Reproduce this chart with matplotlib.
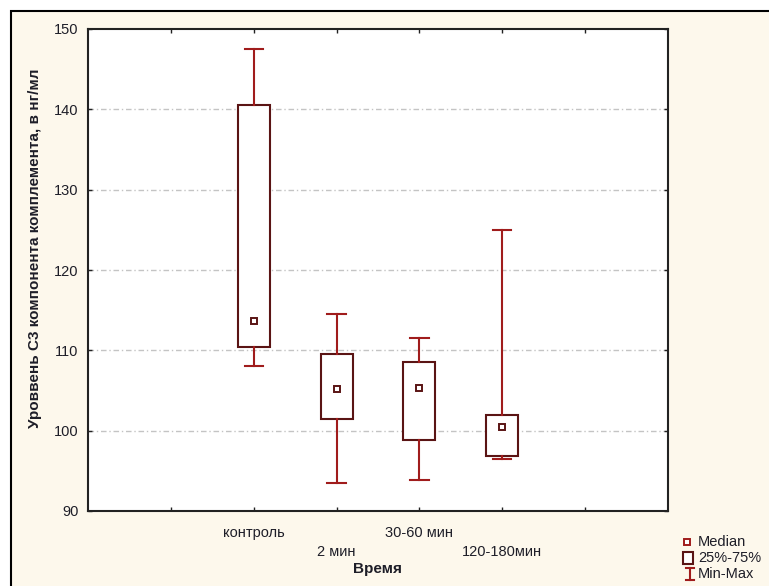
import matplotlib
matplotlib.use("Agg")
import matplotlib.pyplot as plt
from matplotlib.patches import Rectangle
from matplotlib.lines import Line2D
from matplotlib.transforms import ScaledTranslation

plt.rcParams['font.family'] = ['Liberation Sans', 'DejaVu Sans']

# Данные по группам (время после воздействия)
categories = ['контроль', '2 мин', '30-60 мин', '120-180мин']
medians = [113.7, 105.2, 105.3, 100.4]
q1 = [110.4, 101.5, 98.9, 96.9]
q3 = [140.6, 109.5, 108.5, 101.9]
mins = [108.0, 93.5, 93.9, 96.5]
maxs = [147.5, 114.5, 111.5, 125.0]
positions = [2, 3, 4, 5]

W, H = 769, 586
box_col = '#5a1414'
whisk_col = '#a01c1c'
bg_col = '#fdf8ec'
txt_col = '#1e1e28'


def px(x, y):
    # пиксели -> доли фигуры
    return x / W, 1 - y / H


fig = plt.figure(figsize=(W / 100, H / 100), dpi=100, facecolor='white')

# кремовая подложка с рамкой
x0, y0 = px(10.5, 10.5)
fig.patches.append(Rectangle((x0, -0.1), 1.2, y0 + 0.1, transform=fig.transFigure,
                             facecolor=bg_col, edgecolor='black', linewidth=1.5, zorder=-5))

ax = fig.add_axes([88 / W, 75 / H, 580 / W, 482 / H])
ax.set_facecolor('white')

stats = []
for i in range(len(categories)):
    stats.append({'med': medians[i], 'q1': q1[i], 'q3': q3[i],
                  'whislo': mins[i], 'whishi': maxs[i], 'fliers': []})

ax.bxp(stats, positions=positions, widths=0.385, capwidths=0.22,
       showfliers=False, patch_artist=True,
       boxprops=dict(facecolor='white', edgecolor=box_col, linewidth=1.5),
       whiskerprops=dict(color=whisk_col, linewidth=1.5),
       capprops=dict(color=whisk_col, linewidth=1.5),
       medianprops=dict(linestyle='none'), zorder=3)

ax.plot(positions, medians, linestyle='none', marker='s', markersize=5,
        markerfacecolor='white', markeredgecolor=box_col, markeredgewidth=1.4, zorder=4)

ax.set_xlim(0, 7)
ax.set_ylim(90, 150)
ax.set_yticks([90, 100, 110, 120, 130, 140, 150])
ax.set_xticks([1, 2, 3, 4, 5, 6])
ax.set_xticklabels([''] + categories + [''])

for y in [100, 110, 120, 130, 140]:
    ax.axhline(y, color='#c4c4c4', linewidth=1.0, linestyle=(0, (4, 2, 1, 2)), zorder=1)

for sp in ax.spines.values():
    sp.set_linewidth(1.5)
    sp.set_color('#222222')

ax.tick_params(direction='in', length=3, width=1, top=True, right=True,
               labelsize=10.5, labelcolor=txt_col, colors='#222222')
ax.tick_params(axis='x', pad=11)
ax.tick_params(axis='y', pad=7)

# подписи оси X в два ряда
for i, lab in enumerate(ax.get_xticklabels()):
    if i in (2, 4):
        lab.set_transform(lab.get_transform() + ScaledTranslation(0, -0.19, fig.dpi_scale_trans))

ax.set_xlabel('Время', fontsize=11, fontweight='bold', color=txt_col)
ax.xaxis.set_label_coords(0.5, -0.105)
ax.set_ylabel('Уроввень С3 компонента комплемента, в нг/мл', fontsize=11,
              fontweight='bold', color=txt_col)
ax.yaxis.set_label_coords(-0.08, 0.545)

# легенда
mx, my = px(687, 542)
fig.add_artist(Line2D([mx], [my], transform=fig.transFigure, marker='s', markersize=4,
                      markerfacecolor='white', markeredgecolor=whisk_col, markeredgewidth=1.4))
bx, by = px(683, 564)
fig.add_artist(Rectangle((bx, by), 10 / W, 12 / H, transform=fig.transFigure,
                         facecolor='white', edgecolor=box_col, linewidth=1.5))
ix, iy1 = px(690, 568)
_, iy2 = px(690, 580)
fig.add_artist(Line2D([ix, ix], [iy1, iy2], transform=fig.transFigure, color=whisk_col, linewidth=1.5))
for yy in (iy1, iy2):
    fig.add_artist(Line2D([ix - 4 / W, ix + 4 / W], [yy, yy], transform=fig.transFigure,
                          color=whisk_col, linewidth=1.5))

for label, yp in [('Median', 542), ('25%-75%', 558), ('Min-Max', 574)]:
    tx, ty = px(698, yp)
    fig.text(tx, ty, label, ha='left', va='center', fontsize=10.5, color=txt_col)

fig.savefig('out.png', dpi=100, facecolor=fig.get_facecolor())
